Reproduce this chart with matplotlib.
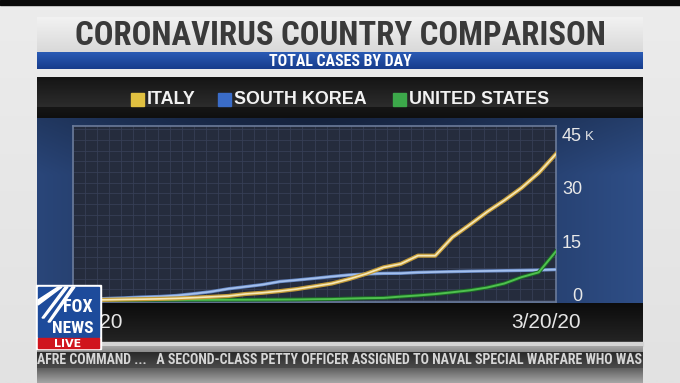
import numpy as np
import matplotlib.pyplot as plt
import matplotlib.patheffects as pe
from matplotlib import font_manager
from matplotlib.patches import Rectangle, Polygon
from matplotlib.colors import to_rgb
from matplotlib.transforms import blended_transform_factory, offset_copy

# total cases by day, 2/20 .. 3/19
dates = ["2/20", "2/21", "2/22", "2/23", "2/24", "2/25", "2/26", "2/27", "2/28", "2/29",
         "3/1", "3/2", "3/3", "3/4", "3/5", "3/6", "3/7", "3/8", "3/9", "3/10",
         "3/11", "3/12", "3/13", "3/14", "3/15", "3/16", "3/17", "3/18", "3/19"]
italy = [3, 20, 62, 155, 229, 322, 453, 655, 888, 1128,
         1694, 2036, 2502, 3089, 3858, 4636, 5883, 7375, 9172, 10149,
         12462, 12462, 17660, 21157, 24747, 27980, 31506, 35713, 41035]
south_korea = [104, 204, 433, 602, 833, 977, 1261, 1766, 2337, 3150,
               3736, 4335, 5186, 5621, 6088, 6593, 7041, 7314, 7478, 7513,
               7755, 7869, 7979, 8086, 8162, 8236, 8320, 8413, 8565]
united_states = [13, 15, 15, 15, 51, 51, 57, 58, 60, 68,
                 74, 98, 118, 149, 217, 262, 402, 518, 583, 959,
                 1281, 1663, 2179, 2727, 3499, 4632, 6421, 7783, 13677]

y_ticks = [0, 15000, 30000, 45000]
y_labels = ["0", "15", "30", "45"]
x_labels = ["2/20/20", "3/20/20"]
legend_names = ["ITALY", "SOUTH KOREA", "UNITED STATES"]

# fonts
names = {f.name for f in font_manager.fontManager.ttflist}
cond = next((n for n in ["Liberation Sans Narrow", "Roboto Condensed", "Open Sans Condensed"] if n in names), "Liberation Sans")
plain = "Liberation Sans" if "Liberation Sans" in names else "DejaVu Sans"

W, H = 680, 383
fig = plt.figure(figsize=(W / 100, H / 100), dpi=100)
bg = fig.add_axes([0, 0, 1, 1])
bg.set_axis_off()


def vgrad(x0, x1, y0, y1, c_top, c_bot, z=1):
    a, b = np.array(to_rgb(c_top)), np.array(to_rgb(c_bot))
    t = np.linspace(0, 1, 64)[:, None, None]
    img = a * (1 - t) + b * t
    bg.imshow(img, extent=(x0, x1, y1, y0), aspect="auto", zorder=z, interpolation="bilinear")


# page background
vgrad(0, W, 0, H, "#ececec", "#e2e2e2", z=0)
bg.add_patch(Rectangle((0, 0), W, 5, color="#0a0a0a", zorder=1))

# title panel
vgrad(37, 643, 17, 52, "#f2f2f2", "#d9d9d9")
bg.text(340, 36, "CORONAVIRUS COUNTRY COMPARISON", ha="center", va="center",
        fontsize=23.6, fontweight="bold", color="#3a3a3a", family=cond, zorder=3)
vgrad(37, 643, 52, 69, "#2a5bb5", "#173c8c")
bg.text(340, 61, "TOTAL CASES BY DAY", ha="center", va="center",
        fontsize=11.4, fontweight="bold", color="white", family=cond, zorder=3)

# dark panel with legend
vgrad(37, 643, 77, 107, "#151515", "#2c2c2c")
vgrad(37, 643, 107, 118, "#161616", "#0f0f0f")

# blue chart zone
u = np.linspace(0, 1, 200)
v = np.linspace(0, 1, 80)
edge = np.abs(u - 0.45) * 2
centre_c, edge_c = np.array(to_rgb("#1b2c4e")), np.array(to_rgb("#2c4a80"))
row = centre_c * (1 - edge[:, None] ** 1.4) + edge_c * edge[:, None] ** 1.4
shade = 0.8 + 0.2 * np.clip(v / 0.3, 0, 1)
img = row[None, :, :] * shade[:, None, None]
bg.imshow(np.clip(img, 0, 1), extent=(37, 643, 305, 118), aspect="auto", zorder=1,
          interpolation="bilinear")

# bottom strip with dates
vgrad(37, 643, 303, 342, "#0c0c0c", "#242424", z=2)
bg.text(88, 322, x_labels[0], ha="center", va="center", fontsize=15,
        color="#e6e6e6", family=plain, zorder=3)
bg.text(546, 322, x_labels[1], ha="center", va="center", fontsize=15,
        color="#e6e6e6", family=plain, zorder=3)

# ticker
bg.add_patch(Rectangle((37, 342), 606, 4, color="#d4d4d4", zorder=2))
vgrad(37, 643, 346, 352, "#a8a8a8", "#8a8a8a", z=2)
vgrad(37, 643, 352, 368, "#2a2a2a", "#4a4a4a", z=2)
vgrad(37, 643, 368, 383, "#5e5e5e", "#a6a6a6", z=2)
clip = Rectangle((37, 352), 606, 16, transform=bg.transData)
t = bg.text(37, 360.5, "AFRE COMMAND ...   A SECOND-CLASS PETTY OFFICER ASSIGNED TO NAVAL SPECIAL WARFARE WHO WAS",
            ha="left", va="center", fontsize=10, fontweight="bold", color="#d6d6d6",
            family=cond, zorder=3)
t.set_clip_path(clip)

# legend
colors = ["#e0c040", "#3a6cc8", "#3ca84a"]
sq_x = [131, 218, 393]
for x, c, n in zip(sq_x, colors, legend_names):
    bg.add_patch(Rectangle((x, 93), 13, 13, color=c, zorder=3))
    bg.text(x + 16, 99.5, n, ha="left", va="center", fontsize=12.9, fontweight="bold",
            color="#f2f2f2", family=plain, zorder=3)

bg.set_xlim(0, W)
bg.set_ylim(H, 0)

# chart
ax = fig.add_axes([73 / W, (H - 302) / H, (556 - 73) / W, (302 - 126) / H])
ax.set_facecolor("#252c3d")
x = np.arange(len(dates))
ax.plot(x, south_korea, color="#a4c0ec", lw=1.3, zorder=3,
        path_effects=[pe.Stroke(linewidth=2.4, foreground="#6688c4"), pe.Normal()])
ax.plot(x, united_states, color="#4fc04f", lw=1.4, zorder=4,
        path_effects=[pe.Stroke(linewidth=2.8, foreground="#1c6a26"), pe.Normal()])
ax.plot(x, italy, color="#f6e8b8", lw=1.2, zorder=5,
        path_effects=[pe.Stroke(linewidth=3.0, foreground="#c49c38"), pe.Normal()])
ax.set_xlim(0, len(dates) - 1)
ax.set_ylim(-560, 48900)
ax.set_xticks(np.linspace(0, len(dates) - 1, 41))
ax.set_yticks(np.arange(0, 48900, 3000))
ax.grid(True, color="#363f56", lw=0.6)
ax.tick_params(length=0, labelbottom=False, labelleft=False)
for s in ax.spines.values():
    s.set_color("#6b7b9a")
    s.set_linewidth(1.2)

tr = offset_copy(blended_transform_factory(ax.transAxes, ax.transData), fig=fig, x=26, y=3.5, units="dots")
for yt, lab in zip(y_ticks, y_labels):
    ax.text(1, yt, lab, transform=tr, ha="right", va="center", fontsize=13,
            color="#e8e8e8", family=plain, clip_on=False)
ax.text(1, y_ticks[-1], "K", transform=offset_copy(tr, fig=fig, x=3, y=-1, units="dots"),
        ha="left", va="center", fontsize=9.5, color="#e8e8e8", family=plain, clip_on=False)

# fox news live logo
lg = fig.add_axes([0, 0, 1, 1], zorder=5)
lg.set_axis_off()
lg.set_xlim(0, W)
lg.set_ylim(H, 0)
lg.add_patch(Rectangle((36, 285), 65, 64, color="white"))
lg.add_patch(Rectangle((38, 287), 61, 50, color="#1d4b9b"))
lg.add_patch(Rectangle((38, 338), 61, 10, color="#d0141d"))
for pts in [[(38, 300), (38, 305), (62, 287), (58, 287)],
            [(42, 318), (44, 318), (68, 287), (65, 287)],
            [(48, 322), (50, 322), (75, 287), (72, 287)]]:
    lg.add_patch(Polygon(pts, closed=True, color="white"))
lg.text(78, 307.5, "FOX", ha="center", va="center", fontsize=13, fontweight="bold",
        color="white", family=cond)
lg.text(73, 328.5, "NEWS", ha="center", va="center", fontsize=12.5, fontweight="bold",
        color="white", family=cond)
lg.text(68, 344, "LIVE", ha="center", va="center", fontsize=8, fontweight="bold",
        color="white", family="DejaVu Sans")

fig.savefig("out.png", dpi=100)
